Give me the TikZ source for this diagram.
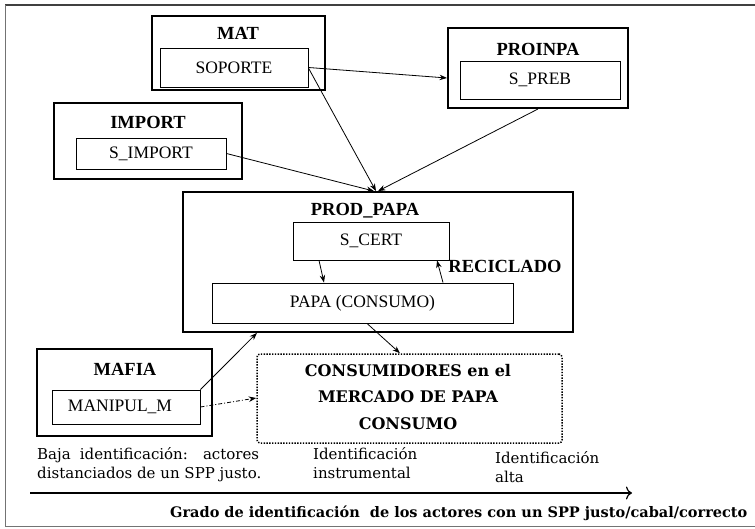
\documentclass[tikz,border=0pt]{standalone}
\usepackage{fontspec}
\setmainfont{Liberation Serif}
\newfontfamily\camb{DejaVu Serif}
\usetikzlibrary{arrows.meta}
\begin{document}
\begin{tikzpicture}[x=1pt,y=-1pt,
  outerbox/.style={draw,line width=2pt,inner sep=0pt},
  innerbox/.style={draw,line width=0.9pt,inner sep=0pt,font=\fontsize{17.5}{20}\selectfont},
  ttl/.style={font=\fontsize{18.5}{20}\selectfont\bfseries,inner sep=0pt},
  arr/.style={line width=0.8pt,-{Stealth[length=7.5pt,width=5.5pt]}},
  lowtxt/.style={font=\camb\fontsize{15}{19}\selectfont,inner sep=0pt,align=left,anchor=north west}]
\useasboundingbox (0,0) rectangle (755,529);
% outer frame
\draw[line width=1.2pt,black!75] (5,5) -- (755,5);
\draw[line width=1pt,black!55] (5,5) -- (5,526) -- (755,526);

% MAT
\node[outerbox,minimum width=173pt,minimum height=74pt] (mat) at (238.5,53) {};
\node[ttl] (matt) at (238,33) {MAT};
\node[innerbox,minimum width=148pt,minimum height=39pt] (soporte) at (234,67.5) {SOPORTE};
% PROINPA
\node[outerbox,minimum width=180pt,minimum height=80pt] (proinpa) at (538,68) {};
\node[ttl] (proinpat) at (538,49) {PROINPA};
\node[innerbox,minimum width=160pt,minimum height=38pt] (spreb) at (540,80) {S\_PREB};
% IMPORT
\node[outerbox,minimum width=188pt,minimum height=76pt] (import) at (148,141) {};
\node[ttl] (importt) at (148,122) {IMPORT};
\node[innerbox,minimum width=150pt,minimum height=31pt] (simport) at (151,153.5) {S\_IMPORT};
% PROD_PAPA
\node[outerbox,line width=1.8pt,minimum width=390pt,minimum height=140pt] (prod) at (378,262) {};
\node[ttl] (prodt) at (365,211) {PROD\_PAPA};
\node[innerbox,minimum width=156pt,minimum height=38pt] (scert) at (371,241) {S\_CERT};
\node[innerbox,minimum width=301pt,minimum height=40pt] (papa) at (362.5,303) {PAPA (CONSUMO)};
\node[ttl] (recic) at (505,266) {RECICLADO};
% MAFIA
\node[outerbox,minimum width=175pt,minimum height=87pt] (mafia) at (124.5,392.5) {};
\node[ttl] (mafiat) at (125,369) {MAFIA};
\node[innerbox,minimum width=148pt,minimum height=34pt] (manip) at (126,407) {\hspace*{-12pt}MANIPUL\_M};
% CONSUMIDORES
\node[draw,line width=1.5pt,dash pattern=on 1.4pt off 1.4pt,rounded corners=3pt,minimum width=305pt,minimum height=89pt,inner sep=0pt] (cons) at (409.5,398.5) {};
\node[font=\camb\fontsize{16}{26.5}\selectfont\bfseries,align=center,inner sep=0pt] (const) at (408,397) {CONSUMIDORES en el\\MERCADO DE PAPA\\CONSUMO};

% arrows
\draw[arr] (soporte.east) -- ([yshift=-10pt]proinpa.west);
\draw[arr] ([yshift=-0.5pt]soporte.east) -- ([xshift=-2pt]prod.north);
\draw[arr] (simport.east) -- ([xshift=-4pt]prod.north);
\draw[arr] (proinpa.south) -- (prod.north);
\draw[arr] ([xshift=-52pt]scert.south) -- ([xshift=-38.5pt]papa.north);
\draw[arr] ([xshift=80.5pt]papa.north) -- ([xshift=66pt]scert.south);
\draw[arr] ([xshift=4.5pt]papa.south) -- ([xshift=-9.5pt]cons.north);
\draw[arr] (manip.north east) -- ([xshift=-121pt]prod.south);
\draw[line width=0.8pt,dash pattern=on 4pt off 2pt on 1pt off 2pt,-{Stealth[length=7.5pt,width=5.5pt]}] (manip.east) -- ([yshift=0.5pt]cons.west);

% bottom texts
\node[lowtxt] (baja) at (37,447) {\makebox[222pt][s]{Baja identificación: actores}\\distanciados de un SPP justo.};
\node[lowtxt] (instr) at (313,447) {Identificación\\instrumental};
\node[lowtxt] (alta) at (495,451) {Identificación\\alta};
\coordinate (axs) at (30,493);
\coordinate (axe) at (632,493);
\draw[line width=1.8pt,-{To[length=6pt,width=13pt,line width=1.2pt]}] (axs) -- (axe);
\node[font=\camb\fontsize{14.5}{16}\selectfont\bfseries,inner sep=0pt,anchor=west] (cap) at (170,513) {Grado de identificación\ \ de los actores con un SPP justo/cabal/correcto};
\end{tikzpicture}
\end{document}
